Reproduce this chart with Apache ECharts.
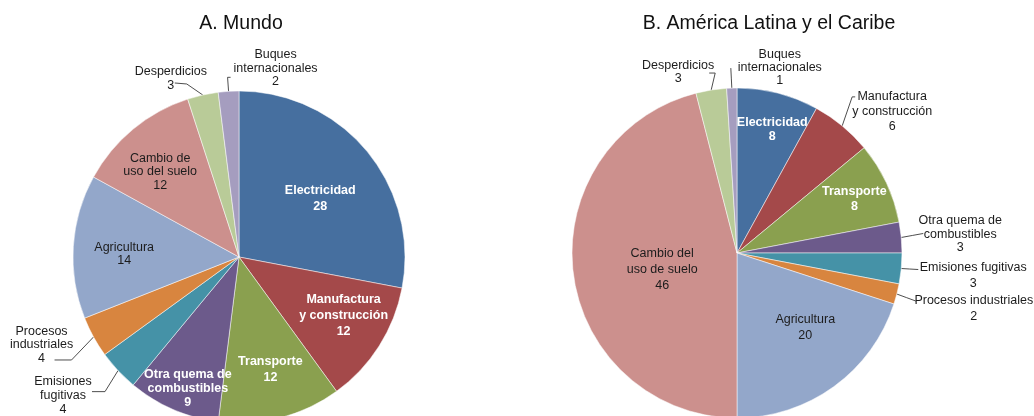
<!DOCTYPE html>
<html>
<head>
<meta charset="utf-8">
<script src="https://cdn.jsdelivr.net/npm/echarts@6/dist/echarts.min.js"></script>
<style>
  html, body { margin: 0; padding: 0; background: #ffffff; }
  #chart { width: 1034px; height: 416px; }
</style>
</head>
<body>
<div id="chart"></div>
<script>
// Emisiones de gases de efecto invernadero por sector (porcentaje del total)
const categories = [
  'Electricidad', 'Manufactura y construcción', 'Transporte',
  'Otra quema de combustibles', 'Emisiones fugitivas', 'Procesos industriales',
  'Agricultura', 'Cambio del uso del suelo', 'Desperdicios', 'Buques internacionales'
];
const mundoValues = [28, 12, 12, 9, 4, 4, 14, 12, 3, 2];
const alcValues = [8, 6, 8, 3, 3, 2, 20, 46, 3, 1];

const mundoLabels = [
  'Electricidad', 'Manufactura\ny construcción', 'Transporte',
  'Otra quema de\ncombustibles', 'Emisiones\nfugitivas', 'Procesos\nindustriales',
  'Agricultura', 'Cambio de\nuso del suelo', 'Desperdicios', 'Buques\ninternacionales'
];
const alcLabels = [
  'Electricidad', 'Manufactura\ny construcción', 'Transporte',
  'Otra quema de\ncombustibles', 'Emisiones fugitivas', 'Procesos industriales',
  'Agricultura', 'Cambio del\nuso de suelo', 'Desperdicios', 'Buques\ninternacionales'
];
const titles = ['A. Mundo', 'B. América Latina y el Caribe'];

// Slice colours, one per sector
const sliceColors = [
  '#466f9f', '#a4494a', '#8aa04f', '#6c5a8b', '#4592a7',
  '#d8853f', '#93a7ca', '#cc908d', '#b9cb98', '#a59dbf'
];

const FONT = "'Liberation Sans', Arial, Helvetica, sans-serif";

// Label placement per slice.
//  in:  label inside the slice, shifted by d from the default inner spot
//  out: label outside; offsets measured from the rim point at the slice's mid angle
const mundoPlace = [
  { d: [15, -4], bold: true, lh: 16 },
  { d: [32, 12], bold: true, lh: 16 },
  { d: [10, 29], bold: true, lh: 16 },
  { d: [-17, 53], bold: true, lh: 14 },
  { out: true, elbow: [-13, 21], end: [-26, 21], text: [-55, 25], lh: 14 },
  { out: true, elbow: [-22, 23], end: [-39, 23], text: [-52, 8], lh: 13.5 },
  { d: [-29, 2], lh: 13 },
  { d: [-24, -19], lh: 13.5 },
  { out: true, elbow: [-16, -11], end: [-28, -12], text: [-32, -16], lh: 14 },
  { out: true, elbow: [-1, -14], end: [2, -14], text: [47, -23], lh: 13.5 }
];
const alcPlace = [
  { d: [14, -41], bold: true, lh: 14 },
  { out: true, elbow: [10, -29], end: [13, -29], text: [50, -14], lh: 15 },
  { d: [40, -18], bold: true, lh: 15 },
  { out: true, end: [22, -4], text: [59, -3], lh: 13.5 },
  { out: true, end: [17, 1], text: [72, 7], lh: 16 },
  { out: true, end: [19, 7], text: [77, 15], lh: 16 },
  { d: [18, 5], lh: 16 },
  { d: [10, 6], lh: 16 },
  { out: true, elbow: [4, -17], end: [-2, -17], text: [-33, -18], lh: 13 },
  { out: true, end: [-1, -20], text: [48, -21], lh: 13 }
];

function buildPie(values, labels, place, center, radius) {
  return {
    type: 'pie',
    center: center,
    radius: radius,
    startAngle: 90,
    clockwise: true,
    avoidLabelOverlap: false,
    silent: true,
    animation: false,
    itemStyle: { borderColor: '#ffffff', borderWidth: 0.5 },
    label: {
      fontFamily: FONT,
      fontSize: 12.5,
      width: 180,
      overflow: 'none',
      formatter: p => labels[p.dataIndex] + '\n' + p.value
    },
    labelLine: {
      length: 4,
      length2: 4,
      lineStyle: { color: '#3a3a3a', width: 0.9 }
    },
    data: values.map((v, i) => ({
      name: categories[i],
      value: v,
      itemStyle: { color: sliceColors[i] },
      label: {
        position: place[i].out ? 'outside' : 'inside',
        color: place[i].bold ? '#ffffff' : '#1c1c1c',
        fontWeight: place[i].bold ? 'bold' : 'normal',
        lineHeight: place[i].lh,
        align: 'center'
      },
      labelLine: { show: !!place[i].out }
    })),
    labelLayout: params => {
      const pl = place[params.dataIndex];
      if (!pl.out) {
        return { dx: pl.d[0], dy: pl.d[1] };
      }
      const p0 = params.labelLinePoints[0];
      const at = off => [p0[0] + off[0], p0[1] + off[1]];
      const end = at(pl.end);
      const elbow = pl.elbow ? at(pl.elbow) : [(p0[0] + end[0]) / 2, (p0[1] + end[1]) / 2];
      const t = at(pl.text);
      return {
        x: t[0],
        y: t[1],
        align: 'center',
        verticalAlign: 'middle',
        labelLinePoints: [[p0[0], p0[1]], elbow, end]
      };
    }
  };
}

const titleStyle = { fontFamily: FONT, fontSize: 19.5, fontWeight: 'normal', color: '#111111' };

const chart = echarts.init(document.getElementById('chart'), null, { renderer: 'canvas' });
chart.setOption({
  backgroundColor: '#ffffff',
  animation: false,
  title: [
    { text: titles[0], left: 241, top: 14, textAlign: 'center', padding: 0, textStyle: titleStyle },
    { text: titles[1], left: 769, top: 14, textAlign: 'center', padding: 0, textStyle: titleStyle }
  ],
  series: [
    buildPie(mundoValues, mundoLabels, mundoPlace, [239, 257], 166),
    buildPie(alcValues, alcLabels, alcPlace, [737, 253], 165)
  ]
});
</script>
</body>
</html>
